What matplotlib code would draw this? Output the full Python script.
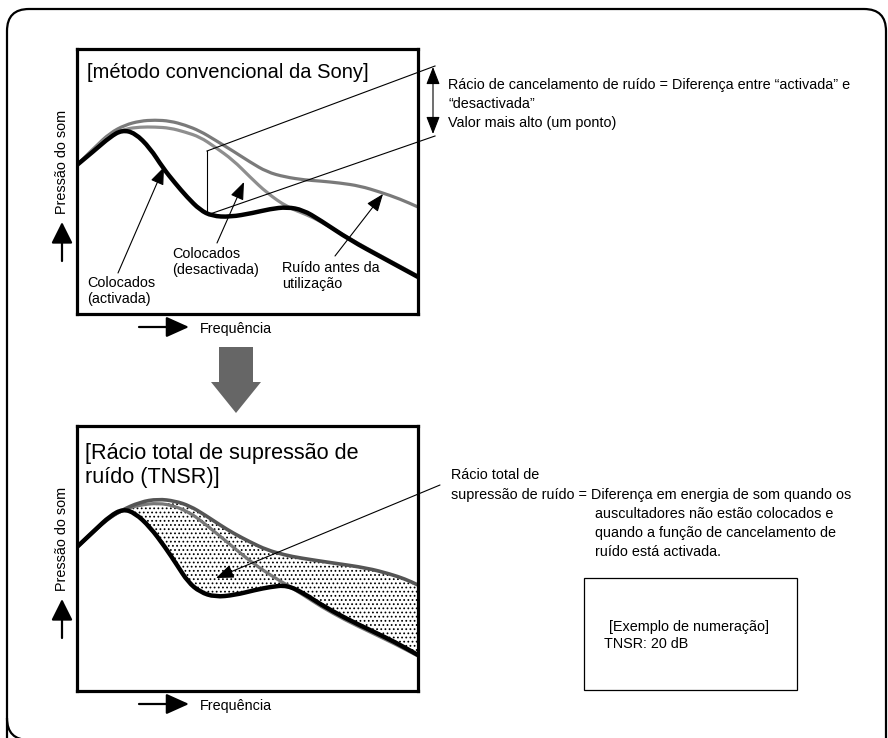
import numpy as np
import matplotlib
matplotlib.use('Agg')
import matplotlib.pyplot as plt
from matplotlib.patches import FancyArrow, Rectangle, PathPatch
from matplotlib.path import Path

plt.rcParams['font.family'] = ['Liberation Sans', 'DejaVu Sans']
plt.rcParams['hatch.linewidth'] = 0.75

W, H = 888, 738
PW, PH = 341, 265   # panel size (frequency units x pressure units)

# painel 1 - método convencional
p1_on_f = [0, 18, 33, 45, 58, 73, 86, 98, 110, 123, 135, 153, 176, 193, 210, 226, 243, 273, 306, 341]
p1_on_p = [149, 164, 177, 184, 181, 166, 146, 131, 117, 104, 98, 97, 101, 105, 107, 104, 94, 74, 56, 37]
p1_off_f = [0, 18, 33, 48, 63, 78, 93, 108, 123, 138, 156, 173, 190, 210, 228, 243, 273, 306, 341]
p1_off_p = [149, 166, 179, 185, 187, 187, 186, 182, 177, 167, 154, 137, 121, 107, 100, 93, 75, 57, 38]
p1_noise_f = [0, 18, 33, 48, 63, 78, 93, 108, 123, 138, 156, 173, 190, 208, 228, 243, 263, 283, 303, 323, 341]
p1_noise_p = [149, 167, 181, 189, 193, 194, 193, 189, 183, 174, 163, 152, 142, 137, 134, 133, 131, 128, 122, 115, 107]

# painel 2 - TNSR
p2_on_f = [0, 18, 33, 46, 58, 73, 88, 100, 111, 123, 138, 158, 178, 193, 210, 228, 243, 268, 293, 318, 341]
p2_on_p = [144, 161, 175, 182, 178, 164, 144, 126, 109, 99, 94, 96, 101, 104, 106, 97, 87, 73, 61, 49, 36]
p2_off_f = [0, 18, 33, 48, 63, 81, 98, 113, 123, 138, 156, 173, 190, 210, 228, 243, 268, 293, 318, 341]
p2_off_p = [144, 161, 174, 182, 186, 188, 185, 178, 171, 159, 144, 130, 118, 106, 95, 85, 71, 59, 47, 35]
p2_noise_f = [0, 13, 28, 43, 63, 81, 98, 113, 128, 143, 156, 173, 190, 208, 223, 256, 290, 313, 328, 341]
p2_noise_p = [144, 156, 170, 180, 189, 192, 190, 185, 176, 166, 158, 149, 141, 136, 133, 128, 123, 117, 112, 106]

fig = plt.figure(figsize=(W / 100, H / 100), dpi=100)


def panel(left, top):
    a = fig.add_axes([left / W, 1 - (top + PH) / H, PW / W, PH / H])
    a.set_xlim(0, PW)
    a.set_ylim(0, PH)
    a.set_xticks([])
    a.set_yticks([])
    for s in a.spines.values():
        s.set_linewidth(2.3)
        s.set_zorder(10)
    return a


def curve(a, f, p, color, lw):
    # smooth path through the read points (quadratic segments between midpoints)
    pts = np.column_stack([f, p]).astype(float)
    verts = [pts[0]]
    codes = [Path.MOVETO]
    for i in range(1, len(pts) - 1):
        verts += [pts[i], (pts[i] + pts[i + 1]) / 2]
        codes += [Path.CURVE3, Path.CURVE3]
    verts.append(pts[-1])
    codes.append(Path.LINETO)
    a.add_patch(PathPatch(Path(verts, codes), fill=False, ec=color, lw=lw,
                          capstyle='round', joinstyle='round'))


ax1 = panel(77, 49)
curve(ax1, p1_noise_f, p1_noise_p, '#7a7a7a', 2.3)
curve(ax1, p1_off_f, p1_off_p, '#8e8e8e', 2.3)
curve(ax1, p1_on_f, p1_on_p, 'black', 3.2)

ax2 = panel(77, 426)
f = np.array(p2_on_f)
top = np.interp(f, p2_noise_f, p2_noise_p)
ax2.fill_between(f, p2_on_p, top, where=f >= 46, facecolor='white',
                 edgecolor='black', linewidth=0, hatch='....')
curve(ax2, p2_off_f, p2_off_p, '#777777', 2.3)
curve(ax2, p2_noise_f, p2_noise_p, '#555555', 2.6)
curve(ax2, p2_on_f, p2_on_p, 'black', 3.2)

# overlay in pixel coordinates
ov = fig.add_axes([0, 0, 1, 1], zorder=5)
ov.set_xlim(0, W)
ov.set_ylim(H, 0)
ov.axis('off')
ov.patch.set_visible(False)

# outer frame: open at the bottom (runs off the picture)
r = 22
frame = Path([(7, 760), (7, 9 + r), (7, 9), (7 + r, 9), (886 - r, 9), (886, 9),
              (886, 9 + r), (886, 760)],
             [Path.MOVETO, Path.LINETO, Path.CURVE3, Path.CURVE3, Path.LINETO,
              Path.CURVE3, Path.CURVE3, Path.LINETO])
ov.add_patch(PathPatch(frame, fill=False, ec='black', lw=1.6, clip_on=False))
corner = Path([(7, 718), (7, 740), (29, 740)], [Path.MOVETO, Path.CURVE3, Path.CURVE3])
ov.add_patch(PathPatch(corner, fill=False, ec='black', lw=1.6))

fs = 10.4


def arrow(tail, tip, lw=0.8, hl=0.9, hw=0.35, ms=12):
    ov.annotate('', xy=tip, xytext=tail,
                arrowprops=dict(arrowstyle=f'-|>,head_length={hl},head_width={hw}',
                                mutation_scale=ms, lw=lw, color='black',
                                shrinkA=0, shrinkB=0))


def axis_labels(ytop):
    # ytop = top of panel
    ov.text(62, ytop + 113, 'Pressão do som', rotation=90, ha='center', va='center', fontsize=fs)
    arrow((62, ytop + 212), (62, ytop + 173), lw=1.6, hl=1.0, hw=0.5, ms=13)
    ov.text(200, ytop + 280, 'Frequência', ha='left', va='center', fontsize=fs)
    arrow((139, ytop + 278), (189, ytop + 278), lw=1.6, hl=1.0, hw=0.45, ms=14)


axis_labels(49)
axis_labels(426)

# painel 1 textos
ov.text(87, 72, '[método convencional da Sony]', ha='left', va='center', fontsize=14.5)
ov.text(87, 283, 'Colocados', ha='left', va='center', fontsize=fs)
ov.text(87, 299, '(activada)', ha='left', va='center', fontsize=fs)
ov.text(172, 254, 'Colocados', ha='left', va='center', fontsize=fs)
ov.text(172, 270, '(desactivada)', ha='left', va='center', fontsize=fs)
ov.text(282, 268, 'Ruído antes da', ha='left', va='center', fontsize=fs)
ov.text(282, 284, 'utilização', ha='left', va='center', fontsize=fs)
arrow((118, 273), (164, 167))
arrow((217, 243), (244, 182))
arrow((335, 256), (383, 194))

ov.plot([207, 207], [151, 213], color='black', lw=0.8)
ov.plot([207, 435], [151, 66], color='black', lw=0.8)
ov.plot([210, 435], [214, 136], color='black', lw=0.8)
ov.annotate('', xy=(433, 67), xytext=(433, 134),
            arrowprops=dict(arrowstyle='<|-|>,head_length=0.9,head_width=0.35',
                            mutation_scale=12, lw=0.8, color='black', shrinkA=0, shrinkB=0))
ov.text(448, 85, 'Rácio de cancelamento de ruído = Diferença entre “activada” e',
        ha='left', va='center', fontsize=fs)
ov.text(448, 104, '“desactivada”', ha='left', va='center', fontsize=fs)
ov.text(448, 123, 'Valor mais alto (um ponto)', ha='left', va='center', fontsize=fs)

# seta grande
ov.add_patch(FancyArrow(236, 347, 0, 66, width=34, head_width=50, head_length=31,
                        length_includes_head=True, color='#666666', lw=0))

# painel 2 textos
ov.text(85, 454, '[Rácio total de supressão de', ha='left', va='center', fontsize=15.6)
ov.text(85, 478, 'ruído (TNSR)]', ha='left', va='center', fontsize=15.6)
arrow((440, 485), (216, 578))
ov.text(451, 475, 'Rácio total de', ha='left', va='center', fontsize=fs)
ov.text(451, 495, 'supressão de ruído = Diferença em energia de som quando os',
        ha='left', va='center', fontsize=fs)
ov.text(595, 514, 'auscultadores não estão colocados e', ha='left', va='center', fontsize=fs)
ov.text(595, 533, 'quando a função de cancelamento de', ha='left', va='center', fontsize=fs)
ov.text(595, 552, 'ruído está activada.', ha='left', va='center', fontsize=fs)

ov.add_patch(Rectangle((584, 578), 213, 112, fc='none', ec='black', lw=0.9))
ov.text(609, 627, '[Exemplo de numeração]', ha='left', va='center', fontsize=fs)
ov.text(604, 644, 'TNSR: 20 dB', ha='left', va='center', fontsize=fs)

fig.savefig('out.png', dpi=100)
